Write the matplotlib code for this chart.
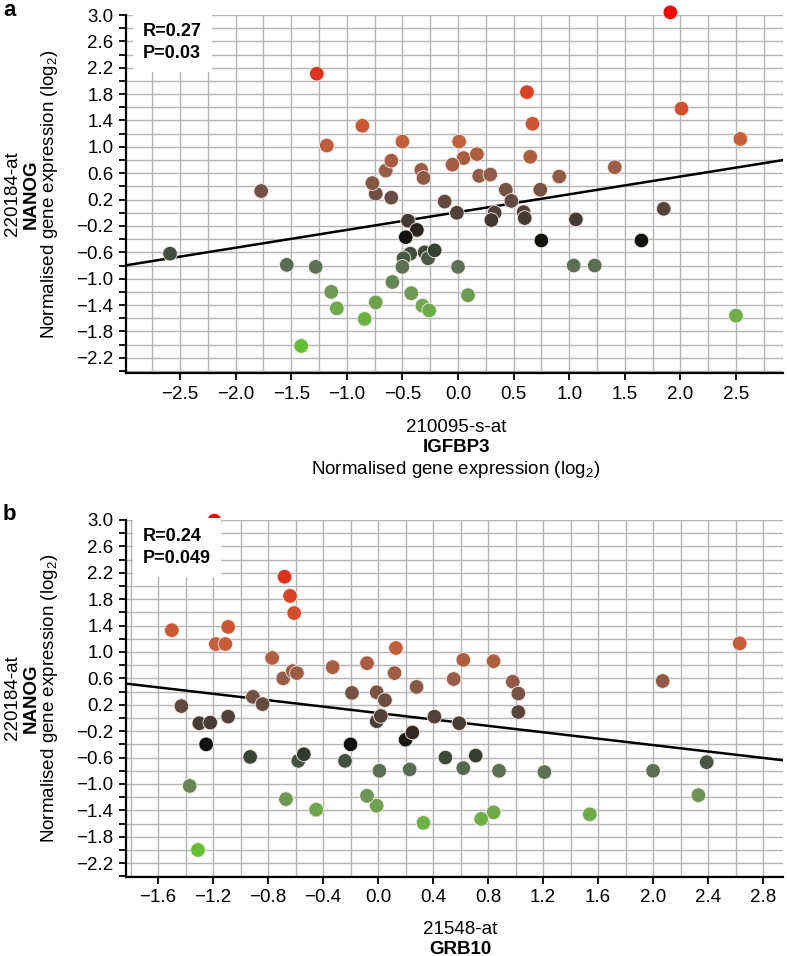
import numpy as np
import matplotlib
matplotlib.use("Agg")
import matplotlib.pyplot as plt
from matplotlib.colors import LinearSegmentedColormap, Normalize
from matplotlib.ticker import MultipleLocator, FixedLocator

plt.rcParams['font.family'] = ['Liberation Sans', 'DejaVu Sans']
plt.rcParams['mathtext.fontset'] = 'custom'
plt.rcParams['mathtext.rm'] = 'Liberation Sans'
plt.rcParams['mathtext.it'] = 'Liberation Sans'

# ---------------- data ----------------
a_x = [-1.27, -0.86, -1.18, -1.77, -2.59, -1.54, -1.28, -1.14, -1.09, -1.41,
       -0.84, -0.74, -0.59, -0.74, -0.77, -0.65, -0.60, -0.60, -0.50, 1.91,
       0.62, 0.67, 2.01, 2.54, 0.65, 1.41, 0.91, 0.74, 0.01, 0.05,
       0.17, -0.05, 0.19, 0.29, -0.33, -0.31, -0.12, -0.01, 0.43, 0.48,
       0.33, 0.30, 0.59, 0.60, 1.06, 1.85, 0.75, 1.65, -0.45, -0.37,
       -0.47, -0.43, -0.49, -0.50, -0.30, -0.27, -0.21, 0.00, 1.04, 1.23,
       -0.42, 0.09, -0.32, -0.26, 2.50]
a_y = [2.11, 1.32, 1.02, 0.33, -0.62, -0.79, -0.82, -1.20, -1.45, -2.02,
       -1.61, -1.36, -1.05, 0.29, 0.45, 0.64, 0.79, 0.23, 1.08, 3.04,
       1.83, 1.35, 1.58, 1.12, 0.85, 0.69, 0.55, 0.35, 1.08, 0.83,
       0.89, 0.73, 0.56, 0.58, 0.65, 0.53, 0.17, 0.00, 0.35, 0.18,
       0.00, -0.11, 0.01, -0.08, -0.10, 0.06, -0.42, -0.42, -0.12, -0.26,
       -0.37, -0.62, -0.69, -0.82, -0.60, -0.69, -0.57, -0.82, -0.80, -0.80,
       -1.22, -1.25, -1.41, -1.48, -1.56]

b_x = [-1.19, -1.50, -1.18, -1.11, -1.09, -0.68, -0.64, -0.61, -0.77, -0.69,
       -0.62, -0.59, -1.43, -1.30, -1.22, -1.09, -0.91, -0.84, -0.33, -0.19,
       -0.08, -0.01, 0.05, 0.13, 0.12, -0.01, 0.02, 0.28, 0.62, 0.55,
       0.84, 0.98, 1.02, 1.02, 2.07, 2.63, 0.41, 0.59, 0.20, 0.25,
       0.49, 0.71, 0.01, 0.23, 0.62, 0.88, 1.21, 2.00, 2.39, 2.33,
       1.54, 0.84, 0.75, 0.33, -0.01, -1.25, -0.93, -0.58, -0.54, -0.20,
       -0.24, -1.37, -0.67, -0.45, -0.08, -1.31]
b_y = [2.99, 1.33, 1.12, 1.12, 1.38, 2.14, 1.85, 1.59, 0.91, 0.60,
       0.71, 0.68, 0.18, -0.08, -0.07, 0.02, 0.32, 0.21, 0.77, 0.38,
       0.83, 0.39, 0.27, 1.06, 0.68, -0.05, 0.03, 0.47, 0.88, 0.59,
       0.86, 0.55, 0.37, 0.09, 0.56, 1.13, 0.02, -0.08, -0.33, -0.22,
       -0.60, -0.57, -0.80, -0.78, -0.76, -0.80, -0.82, -0.80, -0.67, -1.17,
       -1.46, -1.43, -1.53, -1.59, -1.33, -0.40, -0.59, -0.65, -0.55, -0.40,
       -0.65, -1.03, -1.23, -1.39, -1.18, -2.00]

a_fit = (0.27, 0.01)    # slope, intercept
b_fit = (-0.243, 0.075)

a_stats = "R=0.27\nP=0.03"
b_stats = "R=0.24\nP=0.049"

y_label = ["220184-at", "NANOG", "Normalised gene expression (log$_2$)"]
a_xlabel = ["210095-s-at", "IGFBP3", "Normalised gene expression (log$_2$)"]
b_xlabel = ["21548-at", "GRB10", "Normalised gene expression (log$_2$)"]

# ---------------- colour map (by y value) ----------------
stops = [(-2.0, (100, 190, 50)), (-1.5, (110, 172, 75)), (-1.2, (110, 150, 85)),
         (-0.8, (90, 110, 85)), (-0.6, (60, 70, 58)), (-0.4, (15, 15, 15)),
         (-0.1, (70, 58, 52)), (0.3, (110, 80, 68)), (0.6, (150, 92, 72)),
         (1.1, (195, 95, 60)), (1.8, (215, 70, 40)), (2.2, (222, 45, 30)),
         (3.05, (235, 10, 10))]
vmin, vmax = stops[0][0], stops[-1][0]
cmap = LinearSegmentedColormap.from_list(
    "nanog", [((v - vmin) / (vmax - vmin), tuple(c / 255 for c in col)) for v, col in stops])
norm = Normalize(vmin, vmax)

W, H = 787, 956
fig = plt.figure(figsize=(W / 100, H / 100), dpi=100)
FS = 13.5


def fmt(v, p=None):
    v = round(v, 2)
    if abs(v) < 1e-9:
        v = 0.0
    return f"{v:.1f}".replace('-', '\u2212')


def px_axes(l, t, r, b):
    return fig.add_axes([l / W, 1 - b / H, (r - l) / W, (b - t) / H])


def style(ax, xlim, ylim, xgrid):
    ax.set_xlim(*xlim)
    ax.set_ylim(*ylim)
    for s in ['top', 'right']:
        ax.spines[s].set_visible(False)
    for s in ['left', 'bottom']:
        ax.spines[s].set_linewidth(1.6)
    ax.yaxis.set_major_locator(FixedLocator(np.round(np.arange(-2.2, 3.01, 0.4), 2)))
    ax.yaxis.set_minor_locator(FixedLocator(np.round(np.arange(-2.4, 3.01, 0.4), 2)))
    ax.tick_params(axis='both', which='both', direction='out', length=5, width=1.3,
                   labelsize=FS, pad=4)
    gx = np.arange(np.ceil(xlim[0] / xgrid) * xgrid, xlim[1] + 1e-9, xgrid)
    for v in gx:
        ax.axvline(v, color='#b4b4b4', lw=1.0, zorder=0)
    for v in np.arange(-2.4, 3.01, 0.2):
        ax.axhline(v, color='#b4b4b4', lw=1.0, zorder=0)
    ax.yaxis.set_major_formatter(plt.FuncFormatter(fmt))
    ax.xaxis.set_major_formatter(plt.FuncFormatter(fmt))


def panel(ax, xs, ys, fit, stats, xlim):
    xs = np.array(xs)
    ys = np.array(ys)
    ax.scatter(xs, ys, c=ys, cmap=cmap, norm=norm, s=110, edgecolors='#f3e9e4',
               linewidths=0.6, zorder=3, clip_on=False)
    lx = np.array(xlim)
    ax.plot(lx, fit[0] * lx + fit[1], color='black', lw=1.8, zorder=2)
    ax.text(0.026, 0.978, stats, transform=ax.transAxes, ha='left', va='top',
            fontsize=13, fontweight='bold', linespacing=1.4, zorder=4,
            bbox=dict(facecolor='white', edgecolor='none', pad=7))


# panel a
axa = px_axes(126, 15, 783, 373)
xa = (-2.986, 2.923)
style(axa, xa, (-2.43, 3.0), 0.25)
axa.xaxis.set_major_locator(FixedLocator(np.round(np.arange(-2.5, 2.51, 0.5), 2)))
panel(axa, a_x, a_y, a_fit, a_stats, xa)

# panel b
axb = px_axes(126, 520, 783, 877)
xb = (-1.833, 2.945)
style(axb, xb, (-2.41, 3.0), 0.2)
axb.xaxis.set_major_locator(FixedLocator(np.round(np.arange(-1.6, 2.81, 0.4), 2)))
panel(axb, b_x, b_y, b_fit, b_stats, xb)


def ftext(x, y, s, **kw):
    fig.text(x / W, 1 - y / H, s, **kw)


# y labels
for cy in (194, 698):
    ftext(12, cy, y_label[0], rotation=90, ha='center', va='center', fontsize=FS)
    ftext(31, cy, y_label[1], rotation=90, ha='center', va='center', fontsize=FS, fontweight='bold')
    ftext(50, cy, y_label[2], rotation=90, ha='center', va='center', fontsize=FS)

# x labels
ftext(456, 427, a_xlabel[0], ha='center', va='center', fontsize=FS)
ftext(456, 448, a_xlabel[1], ha='center', va='center', fontsize=FS, fontweight='bold')
ftext(456, 469, a_xlabel[2], ha='center', va='center', fontsize=FS)
ftext(460, 929, b_xlabel[0], ha='center', va='center', fontsize=FS)
ftext(460, 949, b_xlabel[1], ha='center', va='center', fontsize=FS, fontweight='bold')

# panel letters
ftext(3, 10, "a", ha='left', va='center', fontsize=16, fontweight='bold')
ftext(3, 514, "b", ha='left', va='center', fontsize=16, fontweight='bold')

fig.savefig("out.png", dpi=100)
